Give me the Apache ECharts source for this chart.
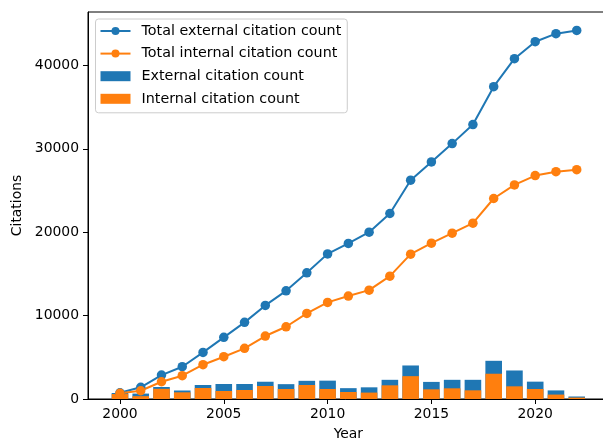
<!DOCTYPE html>
<html><head><meta charset="utf-8">
<script src="https://cdn.jsdelivr.net/npm/echarts@6/dist/echarts.min.js"></script>
<style>html,body{margin:0;padding:0;background:#fff}#c{width:603px;height:443px}</style>
</head><body><div id="c"></div>
<script>
const years = [2000,2001,2002,2003,2004,2005,2006,2007,2008,2009,2010,2011,2012,2013,2014,2015,2016,2017,2018,2019,2020,2021,2022];
const externalCount = [720,650,1440,1020,1680,1800,1800,2070,1780,2180,2200,1300,1400,2300,4020,2050,2300,2300,4580,3420,2080,1030,300];
const internalCount = [600,340,1220,800,1320,960,1080,1560,1200,1680,1200,840,770,1640,2740,1160,1280,1040,3030,1520,1200,530,170];
const totalExternal = [750,1400,2870,3870,5590,7390,9190,11220,12970,15130,17400,18650,20000,22240,26230,28420,30620,32900,37450,40800,42840,43800,44190];
const totalInternal = [680,990,2070,2790,4110,5070,6070,7550,8660,10260,11580,12340,13050,14730,17370,18680,19880,21080,24040,25670,26790,27250,27490];
const xTicks = [2000,2005,2010,2015,2020];
const yTicks = [0,10000,20000,30000,40000];

const pair = arr => arr.map((v,i)=>[years[i], v]);
const FONT = 'DejaVu Sans';
const chart = echarts.init(document.getElementById('c'), null, {renderer:'canvas'});
chart.setOption({
  animation:false,
  textStyle:{fontFamily:FONT},
  grid:{left:88, top:12, bottom:44, right:-5.7, outerBoundsMode:'none', containLabel:false, show:true, borderColor:'#000', borderWidth:1, backgroundColor:'transparent'},
  xAxis:{type:'value', min:1998.46, max:2023.54,
    name:'Year', nameLocation:'middle', nameGap:28, nameTextStyle:{fontSize:13.9, color:'#000', fontFamily:FONT},
    axisLine:{show:true, lineStyle:{color:'#000', width:1}},
    axisTick:{show:true, inside:false, length:5, lineStyle:{color:'#000'}, customValues:xTicks},
    axisLabel:{color:'#000', fontSize:13.9, margin:8, customValues:xTicks, fontFamily:FONT, formatter:v=>String(v)},
    splitLine:{show:false}},
  yAxis:{type:'value', min:0, max:46400, interval:10000,
    name:'Citations', nameLocation:'middle', nameGap:60, nameTextStyle:{fontSize:13.9, color:'#000', fontFamily:FONT},
    axisLine:{show:true, lineStyle:{color:'#000', width:1}},
    axisTick:{show:true, length:5, lineStyle:{color:'#000'}, customValues:yTicks},
    axisLabel:{color:'#000', fontSize:13.9, margin:9, customValues:yTicks, fontFamily:FONT, formatter:v=>String(v)},
    splitLine:{show:false}},
  legend:{orient:'vertical', left:95.5, top:19, padding:[4,6,6,4], itemGap:6.6, itemWidth:30, itemHeight:10,
    backgroundColor:'rgba(255,255,255,0.8)', borderColor:'#cccccc', borderWidth:1, borderRadius:3,
    textStyle:{fontSize:14.3, color:'#000', fontFamily:FONT, lineHeight:16, padding:[0,0,0,6]},
    data:[
      {name:'Total external citation count'},
      {name:'Total internal citation count'},
      {name:'External citation count', icon:'rect'},
      {name:'Internal citation count', icon:'rect'}
    ]},
  series:[
    {name:'External citation count', type:'bar', data:pair(externalCount), barWidth:16.6, barGap:'-100%', itemStyle:{color:'#1f77b4'}, z:2},
    {name:'Internal citation count', type:'bar', data:pair(internalCount), barWidth:16.6, barGap:'-100%', itemStyle:{color:'#ff7f0e'}, z:2},
    {name:'Total external citation count', type:'line', data:pair(totalExternal), symbol:'circle', symbolSize:9.5,
      lineStyle:{color:'#1f77b4', width:2}, itemStyle:{color:'#1f77b4'}, z:3},
    {name:'Total internal citation count', type:'line', data:pair(totalInternal), symbol:'circle', symbolSize:9.5,
      lineStyle:{color:'#ff7f0e', width:2}, itemStyle:{color:'#ff7f0e'}, z:3}
  ]
});
</script></body></html>
